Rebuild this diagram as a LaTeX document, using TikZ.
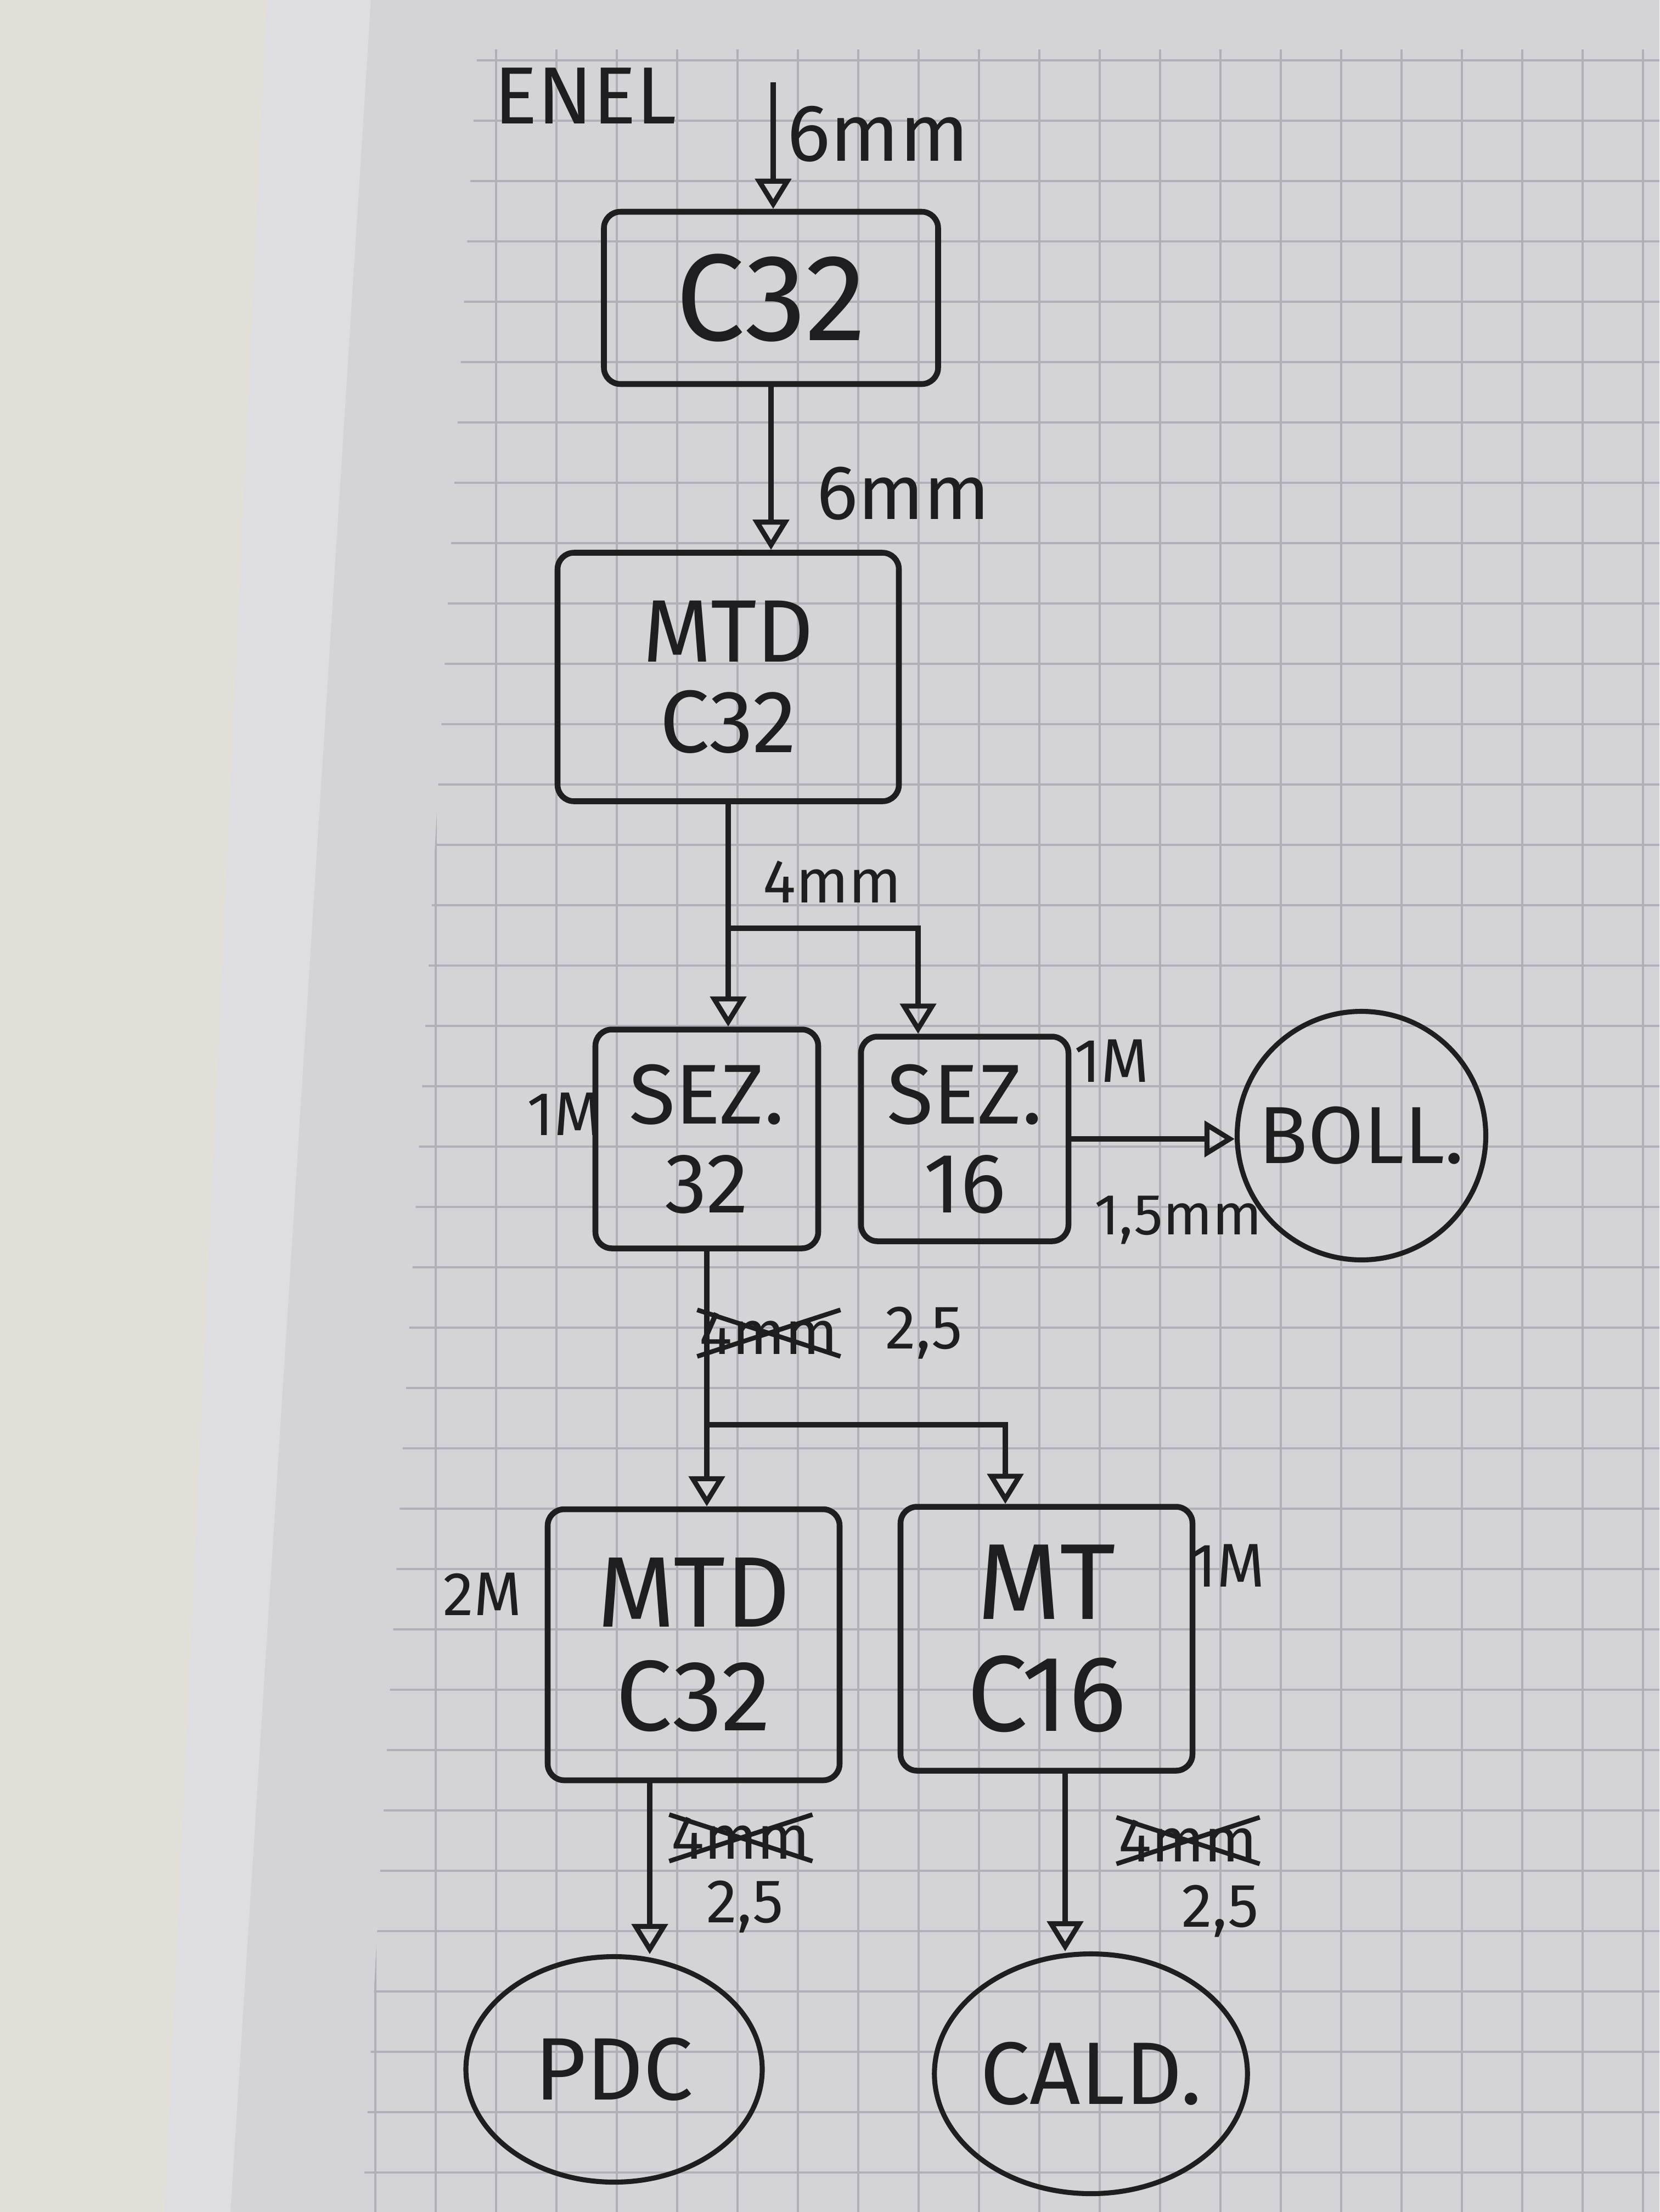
\documentclass[tikz,border=0pt]{standalone}
\usepackage{fontspec}
\setmainfont{Fira Sans}
\usetikzlibrary{arrows.meta,shapes.geometric}
\definecolor{desk}{RGB}{226,223,217}
\definecolor{pageedge}{RGB}{222,222,226}
\definecolor{paper}{RGB}{212,211,216}
\definecolor{gridline}{RGB}{178,176,182}
\definecolor{ink}{RGB}{30,30,32}

\begin{document}
\begin{tikzpicture}[x=1cm,y=-1cm,
    every node/.style={text=ink},
    box/.style={draw=ink,line width=3pt,rounded corners=0.3cm,
                align=center,inner sep=0pt},
    blob/.style={draw=ink,line width=2.6pt,ellipse,inner sep=0pt},
    wire/.style={draw=ink,line width=2.6pt,
                 -{Triangle[open,length=0.55cm,width=0.65cm]}},
    note/.style={font=\fontsize{32}{32}\selectfont,inner sep=1pt}]
  % paper and background
  \useasboundingbox (0,0) rectangle (30.24,40.32);
  \fill[desk] (0,0) rectangle (30.24,40.32);
  \fill[pageedge] (4.86,0) -- (30.24,0) -- (30.24,40.32) -- (3.0,40.32) -- cycle;
  \fill[paper] (6.76,0) -- (30.24,0) -- (30.24,40.32) -- (4.2,40.32) -- cycle;
  \begin{scope}
    \clip (8.7,0.9) -- (30.24,0.9) -- (30.24,40.32) -- (6.6,40.32) -- cycle;
    \draw[gridline,line width=0.9pt,step=1.1cm,xshift=0.24cm] (6,0) grid (31,41);
  \end{scope}

  % boxes
  \node[box,minimum width=6.09cm,minimum height=3.14cm,
        font=\fontsize{64}{64}\selectfont] (c32) at (14.05,5.43) {C32};
  \node[box,minimum width=6.22cm,minimum height=4.53cm,
        font=\fontsize{46}{47}\selectfont] (mtd1) at (13.27,12.34) {MTD\\C32};
  \node[box,minimum width=4.06cm,minimum height=3.99cm,
        font=\fontsize{44}{46}\selectfont] (sez32) at (12.88,20.76) {SEZ.\\32};
  \node[box,minimum width=3.78cm,minimum height=3.73cm,
        font=\fontsize{44}{46}\selectfont] (sez16) at (17.58,20.76) {SEZ.\\16};
  \node[blob,circle,minimum size=4.53cm,
        font=\fontsize{42}{42}\selectfont] (boll) at (24.81,20.70) {BOLL.};
  \node[box,minimum width=5.32cm,minimum height=4.94cm,
        font=\fontsize{52}{54}\selectfont] (mtd2) at (12.64,29.98) {MTD\\C32};
  \node[box,minimum width=5.32cm,minimum height=4.81cm,
        font=\fontsize{56}{58}\selectfont] (mt16) at (19.07,29.87) {MT\\C16};
  \node[blob,minimum width=5.40cm,minimum height=4.11cm,
        font=\fontsize{46}{46}\selectfont] (pdc) at (11.19,37.72) {PDC};
  \node[blob,minimum width=5.40cm,minimum height=4.37cm,
        font=\fontsize{46}{46}\selectfont] (cald) at (19.88,37.80) {CALD.};

  % supply
  \node[font=\fontsize{42}{42}\selectfont] (enel) at (10.67,1.75) {ENEL};
  \coordinate (feed) at (14.09,1.5);
  \draw[wire] (feed) -- (feed |- c32.north);
  \node[font=\fontsize{42}{42}\selectfont] (w6a) at (16.0,2.44) {6mm};
  \draw[wire] (c32.south) -- (c32.south |- mtd1.north);
  \node[font=\fontsize{40}{40}\selectfont] (w6b) at (16.46,9.0) {6mm};

  % first split
  \draw[wire] (mtd1.south) -- (mtd1.south |- sez32.north);
  \coordinate (split1) at (13.27,16.92);
  \draw[wire] (split1) -| ([xshift=-0.85cm]sez16.north);
  \node[note] (w4) at (15.17,16.07) {4mm};
  \node[note] (m1a) at (10.29,20.31) {1M};
  \node[note] (m1b) at (20.26,19.34) {1M};
  \draw[wire] (sez16.east) -- (sez16.east -| boll.west);
  \node[note,font=\fontsize{30}{30}\selectfont] (w15) at (21.47,22.24) {1,5mm};

  % second split
  \draw[wire] (sez32.south) -- (sez32.south |- mtd2.north);
  \coordinate (split2) at (12.88,25.97);
  \draw[wire] (split2) -| ([xshift=-0.75cm]mt16.north);
  \node[note] (x4a) at (14.01,24.30) {4mm};
  \draw[ink,line width=2.4pt] (x4a.south west) -- (x4a.north east)
    (x4a.north west) -- (x4a.south east);
  \node[note] (w25a) at (16.84,24.30) {2,5};
  \node[note] (m2) at (8.79,29.06) {2M};
  \node[note] (m1c) at (22.37,28.54) {1M};

  % loads
  \draw[wire] ([xshift=-0.8cm]mtd2.south) -- ([xshift=-0.8cm]mtd2.south |- pdc.north);
  \node[note] (x4b) at (13.50,33.50) {4mm};
  \draw[ink,line width=2.4pt] (x4b.south west) -- (x4b.north east)
    (x4b.north west) -- (x4b.south east);
  \node[note] (w25b) at (13.58,34.76) {2,5};
  \draw[wire] ([xshift=0.34cm]mt16.south) -- ([xshift=0.34cm]mt16.south |- cald.north);
  \node[note] (x4c) at (21.65,33.55) {4mm};
  \draw[ink,line width=2.4pt] (x4c.south west) -- (x4c.north east)
    (x4c.north west) -- (x4c.south east);
  \node[note] (w25c) at (22.24,34.84) {2,5};
\end{tikzpicture}
\end{document}
